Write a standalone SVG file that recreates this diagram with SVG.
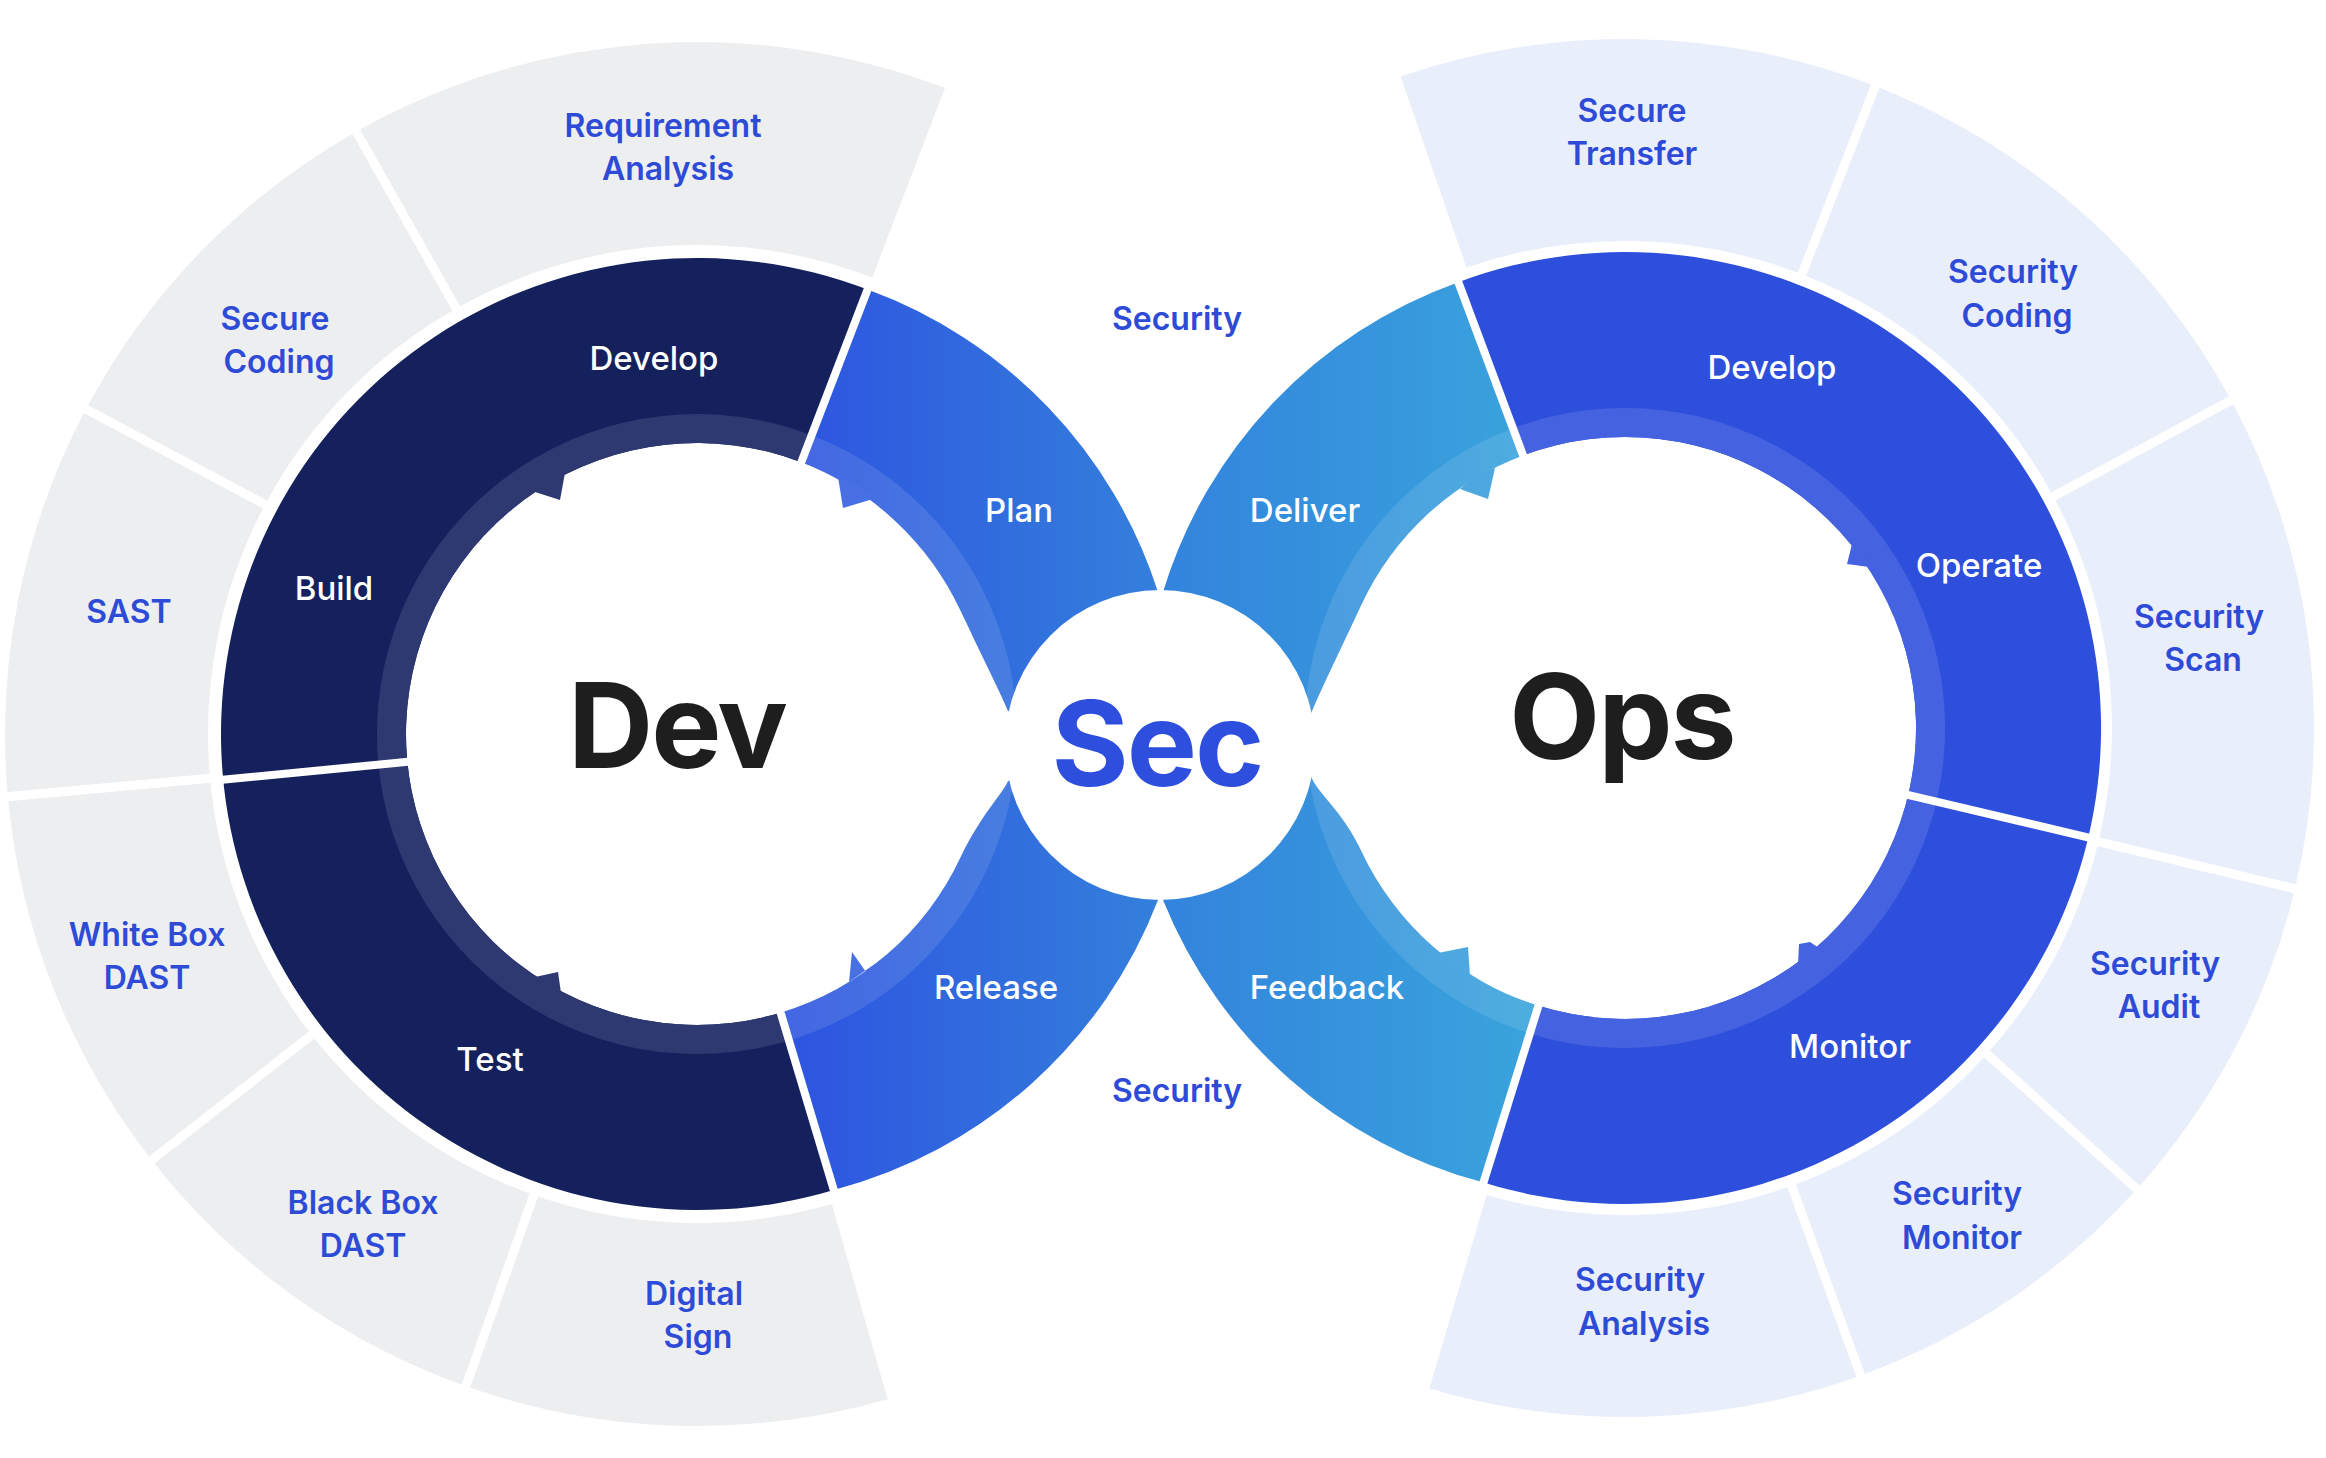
<svg xmlns="http://www.w3.org/2000/svg" width="2326" height="1458" viewBox="0 0 2326 1458">
<defs>
<style>
.lbl{font-family:Inter,"Noto Sans","Liberation Sans",sans-serif;font-size:32px;font-weight:600;fill:#2E4BD8;text-anchor:middle}
.wl{font-family:Inter,"Noto Sans","Liberation Sans",sans-serif;font-size:33px;font-weight:500;fill:#FFFFFF;text-anchor:middle}
.big{font-family:Inter,"Noto Sans","Liberation Sans",sans-serif;font-size:118px;font-weight:700;text-anchor:middle;letter-spacing:-2px}
.gray{fill:#ECEEF0}
.lblue{fill:#E9EEFB}
.sep{stroke:#FFFFFF;stroke-width:8;stroke-linecap:butt}
.gsep{stroke:#FFFFFF;stroke-width:9}
.band{fill:none;stroke:#FFFFFF;stroke-opacity:0.11;stroke-width:29}
</style>
<linearGradient id="gPlan" gradientUnits="userSpaceOnUse" x1="800" y1="0" x2="1160" y2="0">
<stop offset="0" stop-color="#2E55E0"/><stop offset="1" stop-color="#3480DC"/>
</linearGradient>
<linearGradient id="gDel" gradientUnits="userSpaceOnUse" x1="1160" y1="0" x2="1525" y2="0">
<stop offset="0" stop-color="#3383DD"/><stop offset="1" stop-color="#39A3DC"/>
</linearGradient>
<path id="pPlan" d="M867.6,289.6 A476,476 0 0 1 1158,592 L1160,745 L1008,711 C1004,700 980,652 960.7,611 A291,291 0 0 0 801.3,462.3 Z"/>
<path id="pRel" d="M833.8,1189.9 A476,476 0 0 0 1158,900 L1160,745 L1008,781 C1004,792 980,816 960.7,857 A291,291 0 0 1 780.6,1012.7 Z"/>
<path id="pDel" d="M1458.3,282.2 A476,476 0 0 0 1163,592 L1160,745 L1311,714 C1316,700 1342.3,645.8 1361.3,605 A291,291 0 0 1 1523.1,455.4 Z"/>
<path id="pFb" d="M1483.5,1182.5 A476,476 0 0 1 1163,900 L1160,745 L1311,776 C1316,792 1342.3,810.2 1361.3,851 A291,291 0 0 0 1538.5,1005.8 Z"/>
<clipPath id="cPlan"><use href="#pPlan"/></clipPath>
<clipPath id="cRel"><use href="#pRel"/></clipPath>
<clipPath id="cDel"><use href="#pDel"/></clipPath>
<clipPath id="cFb"><use href="#pFb"/></clipPath>
</defs>
<rect width="2326" height="1458" fill="#FFFFFF"/>

<!-- Dev outer practice segments -->
<g id="dev-requirement-analysis">
<path class="gray" d="M356.2,131.7 A692,692 0 0 1 945,88 L872.2,277.5 A489,489 0 0 0 456.2,308.4 Z"/>
<text class="lbl" x="663" y="137">Requirement</text><text class="lbl" x="668" y="180">Analysis</text>
</g>
<g id="dev-secure-coding">
<path class="gray" d="M86,409.1 A692,692 0 0 1 356.2,131.7 L456.2,308.4 A489,489 0 0 0 265.2,504.4 Z"/>
<text class="lbl" x="275" y="330">Secure</text><text class="lbl" x="279" y="373">Coding</text>
</g>
<g id="dev-sast">
<path class="gray" d="M7.9,796.7 A692,692 0 0 1 86,409.1 L265.2,504.4 A489,489 0 0 0 210,778.3 Z"/>
<text class="lbl" x="129" y="623">SAST</text>
</g>
<g id="dev-white-box-dast">
<path class="gray" d="M151.7,1160 A692,692 0 0 1 7.9,796.7 L210,778.3 A489,489 0 0 0 311.7,1035.1 Z"/>
<text class="lbl" x="147" y="946">White Box</text><text class="lbl" x="147" y="989">DAST</text>
</g>
<g id="dev-black-box-dast">
<path class="gray" d="M466,1386.3 A692,692 0 0 1 151.7,1160 L311.7,1035.1 A489,489 0 0 0 533.8,1195 Z"/>
<text class="lbl" x="363" y="1214">Black Box</text><text class="lbl" x="363" y="1257">DAST</text>
</g>
<g id="dev-digital-sign">
<path class="gray" d="M887.7,1399.2 A692,692 0 0 1 466,1386.3 L533.8,1195 A489,489 0 0 0 831.8,1204.1 Z"/>
<text class="lbl" x="694" y="1305">Digital</text><text class="lbl" x="698" y="1348">Sign</text>
</g>

<!-- Ops outer practice segments -->
<g id="ops-secure-transfer">
<path class="lblue" d="M1400.7,76.5 A689,689 0 0 1 1875.3,86.1 L1801.9,274.3 A487,487 0 0 0 1466.4,267.5 Z"/>
<text class="lbl" x="1632" y="122">Secure</text><text class="lbl" x="1632" y="165">Transfer</text>
</g>
<g id="ops-security-coding">
<path class="lblue" d="M1875.3,86.1 A689,689 0 0 1 2231.1,400.3 L2053.4,496.4 A487,487 0 0 0 1801.9,274.3 Z"/>
<text class="lbl" x="2013" y="283">Security</text><text class="lbl" x="2017" y="327">Coding</text>
</g>
<g id="ops-security-scan">
<path class="lblue" d="M2231.1,400.3 A689,689 0 0 1 2295,888.8 L2098.5,841.7 A487,487 0 0 0 2053.4,496.4 Z"/>
<text class="lbl" x="2199" y="628">Security</text><text class="lbl" x="2203" y="671">Scan</text>
</g>
<g id="ops-security-audit">
<path class="lblue" d="M2295,888.8 A689,689 0 0 1 2137,1189 L1986.9,1053.9 A487,487 0 0 0 2098.5,841.7 Z"/>
<text class="lbl" x="2155" y="975">Security</text><text class="lbl" x="2159" y="1018">Audit</text>
</g>
<g id="ops-security-monitor">
<path class="lblue" d="M2137,1189 A689,689 0 0 1 1860.6,1375.4 L1791.6,1185.6 A487,487 0 0 0 1986.9,1053.9 Z"/>
<text class="lbl" x="1957" y="1205">Security</text><text class="lbl" x="1962" y="1249">Monitor</text>
</g>
<g id="ops-security-analysis">
<path class="lblue" d="M1860.6,1375.4 A689,689 0 0 1 1429.3,1388.6 L1486.7,1194.9 A487,487 0 0 0 1791.6,1185.6 Z"/>
<text class="lbl" x="1640" y="1291">Security</text><text class="lbl" x="1644" y="1335">Analysis</text>
</g>

<!-- Dev ring -->
<g id="dev-ring">
<path fill="#15215D" d="M867.6,289.6 A476,476 0 1 0 833.8,1189.9 L780.6,1012.7 A291,291 0 1 1 801.3,462.3 Z"/>
<path fill="#2E3971" d="M811.7,435.3 A320,320 0 1 0 789,1040.5 L780.6,1012.7 A291,291 0 1 1 801.3,462.3 Z"/>
<polygon fill="#2E3971" points="535,492 560,500 565,473 552,476"/>
<polygon fill="#2E3971" points="535,977 558,972 561,993 548,990"/>
<text class="wl" x="654" y="370">Develop</text>
<text class="wl" x="334" y="600">Build</text>
<text class="wl" x="490" y="1071">Test</text>
</g>

<!-- Ops ring -->
<g id="ops-ring">
<path fill="#2E4FDC" d="M1458.3,282.2 A476,476 0 1 1 1483.5,1182.5 L1538.5,1005.8 A291,291 0 1 0 1523.1,455.4 Z"/>
<path fill="#4563E0" d="M1512.9,428.3 A320,320 0 1 1 1529.8,1033.5 L1538.5,1005.8 A291,291 0 1 0 1523.1,455.4 Z"/>
<polygon fill="#4563E0" points="1852,544 1847,564 1869,567 1866,556"/>
<polygon fill="#4563E0" points="1799,944 1798,965 1819,948 1810,942"/>
<text class="wl" x="1772" y="379">Develop</text>
<text class="wl" x="1979" y="577">Operate</text>
<text class="wl" x="1850" y="1058">Monitor</text>
</g>

<g id="plan">
<use href="#pPlan" fill="url(#gPlan)"/>
<circle class="band" cx="697" cy="734" r="305.5" clip-path="url(#cPlan)"/>
<polygon fill="#4870E3" points="838,477 843,508 873,499 860,486"/>
<text class="wl" x="1019" y="522">Plan</text>
</g>
<g id="release">
<use href="#pRel" fill="url(#gPlan)"/>
<circle class="band" cx="697" cy="734" r="305.5" clip-path="url(#cRel)"/>
<polygon fill="#4870E3" points="852,952 849,982 882,959 866,972"/>
<text class="wl" x="996" y="999">Release</text>
</g>
<g id="deliver">
<use href="#pDel" fill="url(#gDel)"/>
<circle class="band" cx="1625" cy="728" r="305.5" clip-path="url(#cDel)"/>
<polygon fill="#4EA8E0" points="1495,468 1488,499 1460,489 1478,474"/>
<text class="wl" x="1305" y="522">Deliver</text>
</g>
<g id="feedback">
<use href="#pFb" fill="url(#gDel)"/>
<circle class="band" cx="1625" cy="728" r="305.5" clip-path="url(#cFb)"/>
<polygon fill="#4EA8E0" points="1438,953 1468,947 1470,976 1452,966"/>
<text class="wl" x="1327" y="999">Feedback</text>
</g>

<!-- dividers -->
<g id="connectors">
<line class="sep" x1="799.1" y1="467.9" x2="869.7" y2="284"/>
<line class="sep" x1="413.3" y1="761.3" x2="217.2" y2="780.2"/>
<line class="sep" x1="778.9" y1="1007" x2="835.5" y2="1195.7"/>
<line class="sep" x1="1525.2" y1="461.1" x2="1456.2" y2="276.5"/>
<line class="sep" x1="1902.4" y1="793.6" x2="2094.1" y2="838.9"/>
<line class="sep" x1="1540.2" y1="1000.1" x2="1481.7" y2="1188.2"/>
<line class="gsep" x1="536.8" y1="1186.5" x2="463.3" y2="1393.8"/>
<line class="gsep" x1="318.8" y1="1029.5" x2="145.4" y2="1165"/>
<line class="gsep" x1="219" y1="777.5" x2="-0.1" y2="797.4"/>
<line class="gsep" x1="273.2" y1="508.7" x2="78.9" y2="405.4"/>
<line class="gsep" x1="460.6" y1="316.2" x2="352.3" y2="124.7"/>
<line class="gsep" x1="1798.6" y1="282.7" x2="1878.5" y2="77.7"/>
<line class="gsep" x1="2045.5" y1="500.7" x2="2239" y2="396"/>
<line class="gsep" x1="2089.8" y1="839.6" x2="2303.7" y2="890.9"/>
<line class="gsep" x1="1980.2" y1="1047.8" x2="2143.7" y2="1195.1"/>
<line class="gsep" x1="1788.5" y1="1177.2" x2="1863.7" y2="1383.9"/>
</g>

<g id="sec-core">
<circle cx="1160" cy="745" r="155" fill="#FFFFFF"/>
<text class="big" x="1157" y="786" fill="#2E4FDD">Sec</text>
</g>
<g id="dev-title"><text class="big" x="677" y="768" fill="#1E1E1E">Dev</text></g>
<g id="ops-title"><text class="big" x="1622" y="759" fill="#1E1E1E">Ops</text></g>
<g id="security-top"><text class="lbl" x="1177" y="330">Security</text></g>
<g id="security-bottom"><text class="lbl" x="1177" y="1102">Security</text></g>
</svg>
